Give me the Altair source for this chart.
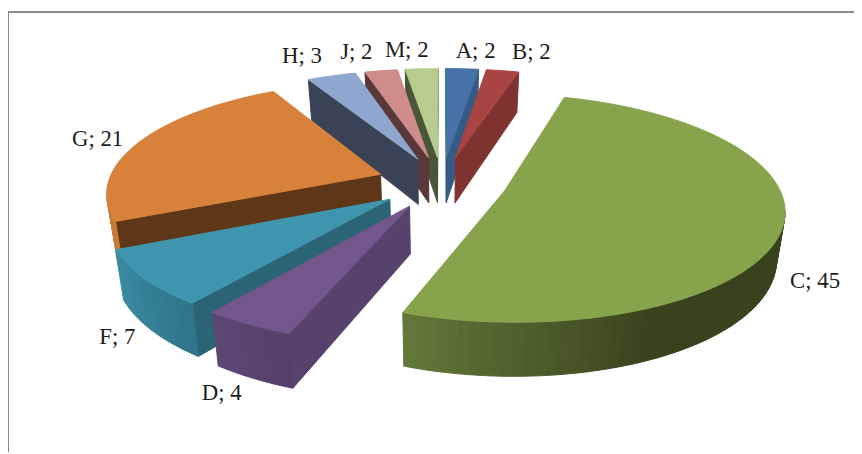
import math
import altair as alt

categories = ["A", "B", "C", "D", "F", "G", "H", "J", "M"]
values = [2, 2, 45, 4, 7, 21, 3, 2, 2]

top_colors = ["#4672A8", "#A84442", "#87A44D", "#72568C", "#3F95AE", "#D8813B", "#8FA6CE", "#CE8C8B", "#B8CC90"]
wall_colors = ["#345A86", "#7F3331", "#64783A", "#56426B", "#2B6474", "#5E3718", "#3A4255", "#583838", "#4B5638"]
# rim colour: (angle fraction where the ramp starts, first colour, last colour)
rim_ramps = {
    "A": (0, "#345A86", "#345A86"), "B": (0, "#7F3331", "#7F3331"),
    "C": (0.75, "#37431C", "#64783A"), "D": (0, "#54406A", "#5D4775"),
    "F": (0, "#2F7388", "#3A8CA4"), "G": (0, "#C77A36", "#C77A36"),
    "H": (0, "#3A4255", "#3A4255"), "J": (0, "#583838", "#583838"),
    "M": (0, "#4B5638", "#4B5638"),
}
# label offset from the middle of each slice's rim
label_nudge = {
    "A": (13.5, -18), "B": (29, -19), "C": (33, 54), "D": (-27, 70), "F": (-27, 59),
    "G": (-42, -3), "H": (-30, -20), "J": (-25, -19), "M": (-15, -19),
}
draw_order = ["M", "J", "H", "G", "A", "B", "F", "D", "C"]

W, H = 854, 446
CX, CY, RX, RY, K, DEPTH, EXPLODE = 438, 174, 275, 110, 0.15, 47, 0.24
BOTTOM_SQUEEZE = 0.975


def project(a_deg, r, mid_deg):
    a, m = math.radians(a_deg), math.radians(mid_deg)
    X = r * math.sin(a) + EXPLODE * math.sin(m)
    Y = -r * math.cos(a) - EXPLODE * math.cos(m)
    s = 1 / (1 - K * Y)
    return CX + RX * X * s, CY + RY * Y * s, DEPTH * s ** 0.85


def below(p):
    return (CX + (p[0] - CX) * BOTTOM_SQUEEZE, p[1] + p[2])


def hex2rgb(c):
    return [int(c[i:i + 2], 16) for i in (1, 3, 5)]


def mix(c1, c2, t):
    a, b = hex2rgb(c1), hex2rgb(c2)
    return "#" + "".join(f"{round(p + (q - p) * t):02x}" for p, q in zip(a, b))


def feat(ring, fill):
    pts = [[round(x, 2), round(y, 2)] for x, y in ring]
    pts.append(pts[0])
    return {"type": "Feature", "geometry": {"type": "Polygon", "coordinates": [pts]},
            "properties": {}, "fill": fill}


features = [feat([(0, 0), (W, 0), (W, H), (0, H)], "#ffffff")]
labels = []

total = sum(values)
spans = {}
acc = 0
for c, v in zip(categories, values):
    spans[c] = (acc / total * 360, (acc + v) / total * 360)
    acc += v

for c in draw_order:
    i = categories.index(c)
    a0, a1 = spans[c]
    mid = (a0 + a1) / 2
    n = max(2, int((a1 - a0) / 2))
    angs = [a0 + (a1 - a0) * j / n for j in range(n + 1)]
    apex = project(a0, 0, mid)
    rim = [project(a, 1, mid) for a in angs]

    if rim[0][0] < apex[0]:
        features.append(feat([apex[:2], rim[0][:2], below(rim[0]), below(apex)], wall_colors[i]))
    if apex[0] < rim[-1][0]:
        features.append(feat([rim[-1][:2], apex[:2], below(apex), below(rim[-1])], wall_colors[i]))

    ramp_from, c_a, c_b = rim_ramps[c]
    for j in range(n):
        p, q = rim[j], rim[j + 1]
        if q[0] < p[0]:
            f = (j + 0.5) / n
            t = max(0, (f - ramp_from) / (1 - ramp_from))
            features.append(feat([p[:2], q[:2], below(q), below(p)], mix(c_a, c_b, t)))

    features.append(feat([apex[:2]] + [p[:2] for p in rim], top_colors[i]))

    m = project(mid, 1, mid)
    dx, dy = label_nudge[c]
    labels.append({"label": f"{c}; {values[i]}", "x": m[0] + dx, "y": m[1] + dy})

# chart frame: top and left rules
FRAME = "#8a8a8a"
features.append(feat([(0, 1.5), (W, 1.5), (W, 2.5), (0, 2.5)], FRAME))
features.append(feat([(0, 1.5), (0.5, 1.5), (0.5, H), (0, H)], FRAME))

shapes = alt.Chart(alt.InlineData(values=features)).mark_geoshape(strokeWidth=1).encode(
    fill=alt.Fill("fill:N", scale=None, legend=None),
    stroke=alt.Stroke("fill:N", scale=None, legend=None),
).project(type="identity")

texts = alt.Chart(alt.InlineData(values=labels)).mark_text(
    font="Liberation Serif", fontSize=23, color="#1c1c1c", align="center", baseline="middle"
).encode(
    x=alt.X("x:Q", scale=None, axis=None),
    y=alt.Y("y:Q", scale=None, axis=None),
    text="label:N",
)

chart = alt.layer(shapes, texts).properties(
    width=W, height=H, padding=0, autosize=alt.AutoSizeParams(type="none")
).configure_view(stroke=None)

chart.save("out.html", embed_options={"renderer": "svg", "actions": False})
